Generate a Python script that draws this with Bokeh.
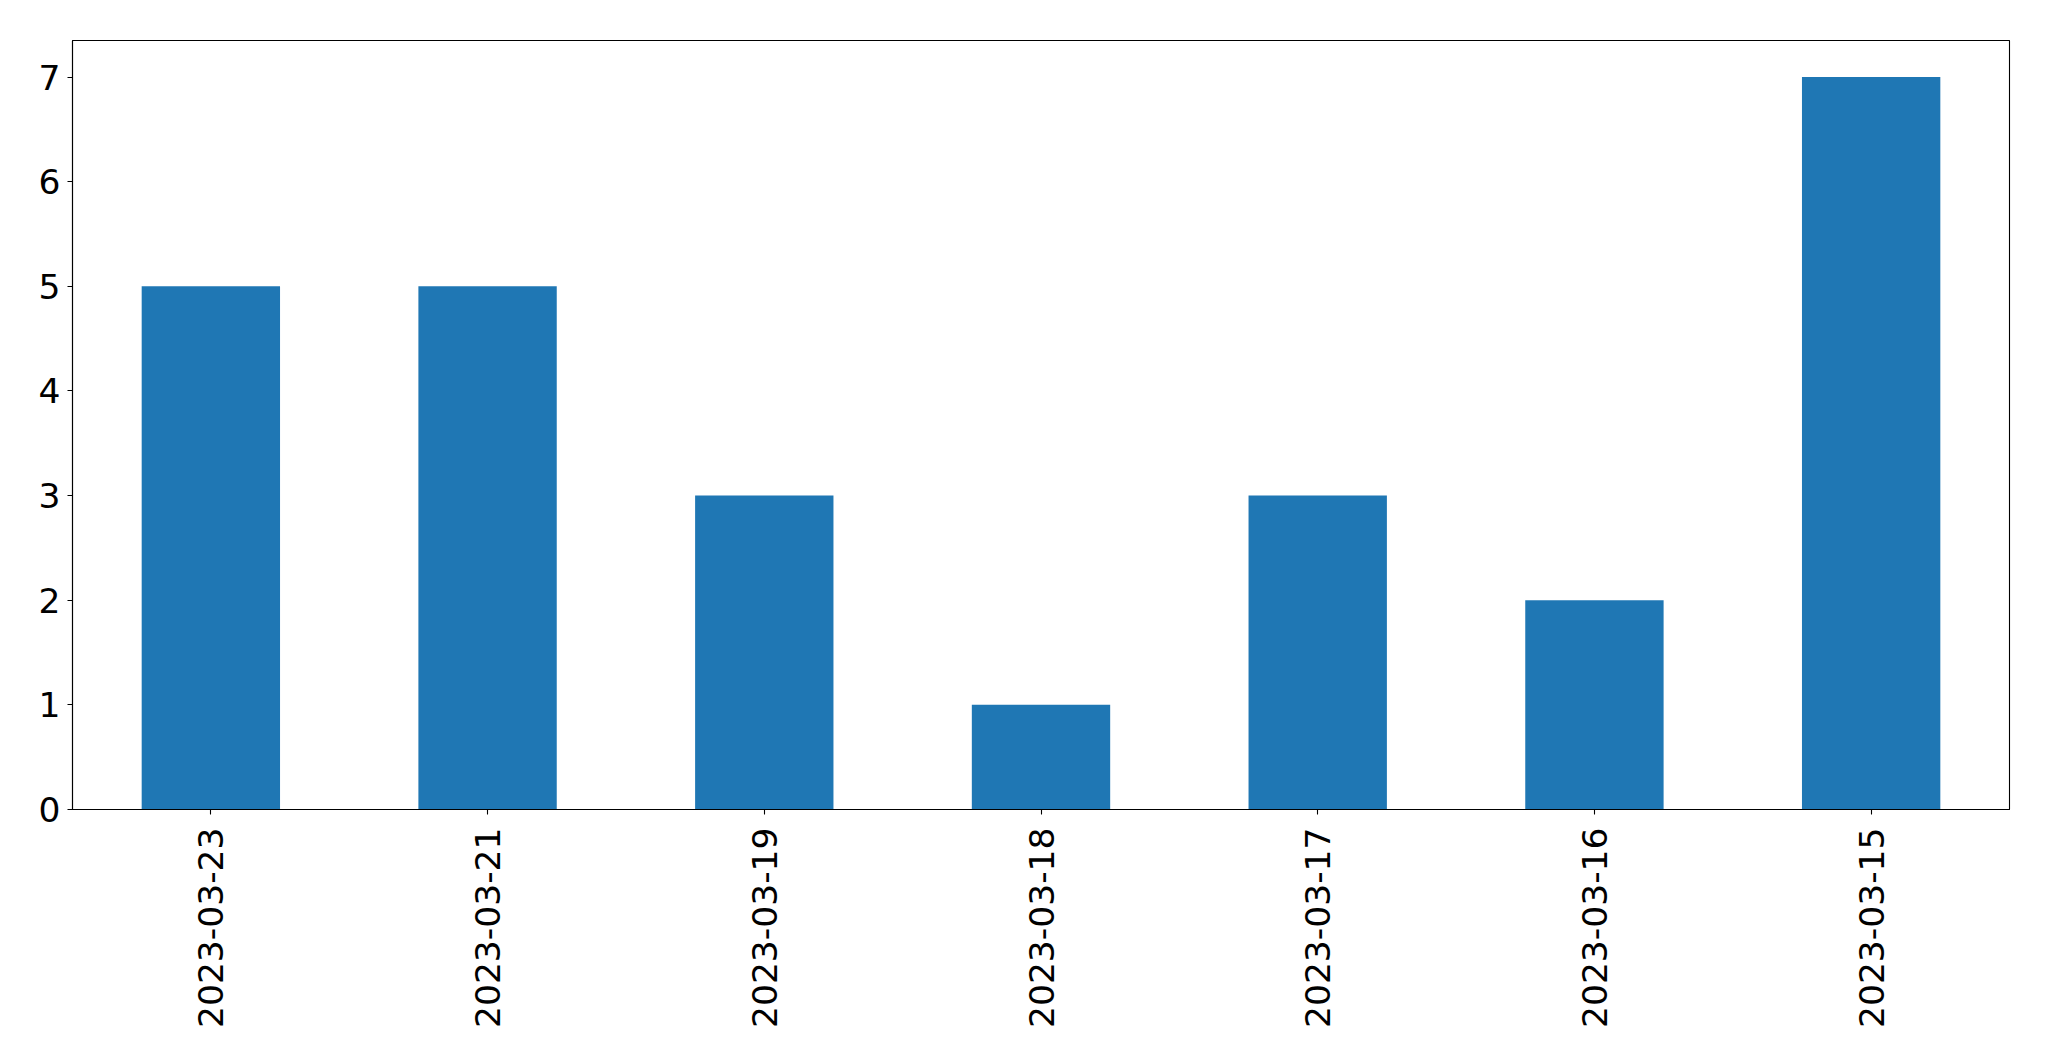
import math
from bokeh.plotting import figure
from bokeh.models import FactorRange, Range1d, FixedTicker, ColumnDataSource
from bokeh.embed import file_html
from bokeh.resources import INLINE

dates = ["2023-03-23", "2023-03-21", "2023-03-19", "2023-03-18", "2023-03-17", "2023-03-16", "2023-03-15"]
counts = [5, 5, 3, 1, 3, 2, 7]
y_ticks = [0, 1, 2, 3, 4, 5, 6, 7]

src = ColumnDataSource(data=dict(date=dates, count=counts))

p = figure(
    x_range=FactorRange(factors=dates, range_padding=0),
    y_range=Range1d(0, 7.35),
    width=2033, height=1040,
    output_backend="svg", toolbar_location=None,
    min_border_left=72, min_border_right=24, min_border_top=40, min_border_bottom=231,
)
p.vbar(x="date", top="count", width=0.5, source=src, color="#1f77b4", line_color=None)

p.xgrid.visible = False
p.ygrid.visible = False
p.outline_line_color = "black"
p.outline_line_width = 1.1

for ax in (p.xaxis[0], p.yaxis[0]):
    ax.axis_line_color = "black"
    ax.axis_line_width = 1.1
    ax.major_tick_line_color = "black"
    ax.major_tick_line_width = 1.1
    ax.major_tick_out = 5
    ax.major_tick_in = 0
    ax.minor_tick_line_color = None
    ax.major_label_text_font = "DejaVu Sans"
    ax.major_label_text_font_size = "34.5px"
    ax.major_label_text_color = "black"

p.yaxis[0].ticker = FixedTicker(ticks=y_ticks)
p.yaxis[0].major_label_standoff = 7
p.xaxis[0].major_label_orientation = math.pi / 2
p.xaxis[0].major_label_standoff = 13

open("out.html", "w").write(file_html(p, INLINE))
